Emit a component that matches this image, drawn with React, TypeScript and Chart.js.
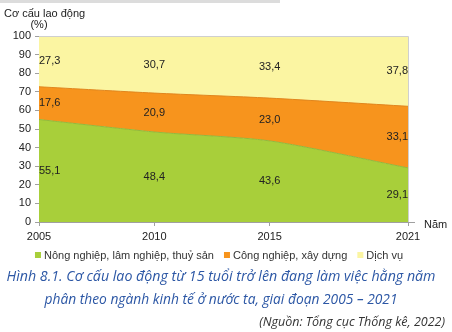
import React, { useEffect, useRef } from "react";
import { Chart, registerables } from "chart.js";

Chart.register(...registerables);

const years = [2005, 2010, 2015, 2021];
const seriesNames = ["Nông nghiệp, lâm nghiệp, thuỷ sản", "Công nghiệp, xây dựng", "Dịch vụ"];
const agriculture = [55.1, 48.4, 43.6, 29.1];
const industry = [17.6, 20.9, 23.0, 33.1];
const services = [27.3, 30.7, 33.4, 37.8];
const fillColors = ["#a8cf3a", "#f7941d", "#fbf5a2"];
const lineColors = ["#93b83a", "#e0861c", "#e6dc8a"];
const yTicks = [0, 10, 20, 30, 40, 50, 60, 70, 80, 90, 100];
const yTitle = ["Cơ cấu lao động", "(%)"];
const xTitle = "Năm";
const captionLines = [
  "Hình 8.1. Cơ cấu lao động từ 15 tuổi trở lên đang làm việc hằng năm",
  "phân theo ngành kinh tế ở nước ta, giai đoạn 2005 – 2021",
];
const sourceText = "(Nguồn: Tổng cục Thống kê, 2022)";

const fmt = (v: number) => v.toFixed(1).replace(".", ",");

export default function App() {
  const ref = useRef<HTMLCanvasElement | null>(null);

  useEffect(() => {
    const canvas = ref.current;
    if (!canvas) return;
    const all = [agriculture, industry, services];

    const extras = {
      id: "extras",
      beforeDraw(chart: any) {
        const ctx = chart.ctx;
        ctx.save();
        ctx.fillStyle = "#dcdcdc";
        ctx.fillRect(0, 0, 280, 3);
        ctx.restore();
      },
      afterDatasetsDraw(chart: any) {
        const ctx = chart.ctx;
        const xs = chart.scales.x;
        const ys = chart.scales.y;
        const ca = chart.chartArea;
        ctx.save();
        // frame top/right
        ctx.strokeStyle = "#cfcfcf";
        ctx.lineWidth = 1;
        ctx.beginPath();
        ctx.moveTo(ca.left, ca.top + 0.5);
        ctx.lineTo(ca.right + 0.5, ca.top + 0.5);
        ctx.lineTo(ca.right + 0.5, ca.bottom);
        ctx.stroke();
        // data labels
        ctx.font = "11px 'Liberation Sans', Arial, sans-serif";
        ctx.fillStyle = "#222";
        ctx.textBaseline = "middle";
        years.forEach((yr, i) => {
          let base = 0;
          const px = xs.getPixelForValue(yr);
          ctx.textAlign = i === 0 ? "left" : i === years.length - 1 ? "right" : "center";
          all.forEach((s) => {
            const v = s[i];
            const py = ys.getPixelForValue(base + v / 2);
            ctx.fillText(fmt(v), px, py);
            base += v;
          });
        });
        ctx.restore();
      },
      afterDraw(chart: any) {
        const ctx = chart.ctx;
        const ca = chart.chartArea;
        ctx.save();
        // x axis extension
        ctx.strokeStyle = "#a0a0a0";
        ctx.lineWidth = 1;
        ctx.beginPath();
        ctx.moveTo(ca.right, ca.bottom + 0.5);
        ctx.lineTo(ca.right + 7, ca.bottom + 0.5);
        ctx.stroke();
        ctx.font = "11px 'Liberation Sans', Arial, sans-serif";
        ctx.fillStyle = "#222";
        ctx.textBaseline = "middle";
        ctx.textAlign = "left";
        ctx.fillText(xTitle, ca.right + 16, ca.bottom + 3);
        // y title
        ctx.textBaseline = "alphabetic";
        ctx.textAlign = "left";
        ctx.fillText(yTitle[0], 4, 17);
        ctx.textAlign = "center";
        ctx.fillText(yTitle[1], 39, 28);
        // legend
        ctx.font = "11px 'Liberation Sans', Arial, sans-serif";
        ctx.textAlign = "left";
        ctx.textBaseline = "middle";
        const box = 6, gapBox = 3, gapItem = 10;
        const widths = seriesNames.map((n) => ctx.measureText(n).width);
        const total = widths.reduce((a, w) => a + box + gapBox + w, 0) + gapItem * (seriesNames.length - 1);
        let lx = 219 - total / 2;
        const ly = 255;
        seriesNames.forEach((n, i) => {
          ctx.fillStyle = fillColors[i];
          ctx.fillRect(lx, ly - box / 2, box, box);
          ctx.fillStyle = "#333";
          ctx.fillText(n, lx + box + gapBox, ly + 0.5);
          lx += box + gapBox + widths[i] + gapItem;
        });
        // caption
        ctx.textBaseline = "alphabetic";
        ctx.textAlign = "center";
        ctx.fillStyle = "#2c57a5";
        ctx.font = "italic 15px 'Open Sans', sans-serif";
        ctx.fillText(captionLines[0], 221, 281, 429);
        ctx.fillText(captionLines[1], 221, 304, 353);
        ctx.textAlign = "right";
        ctx.fillStyle = "#333";
        ctx.font = "italic 12.5px 'Open Sans', sans-serif";
        ctx.fillText(sourceText, 445, 326, 187);
        ctx.restore();
      },
    };

    const chart = new Chart(canvas, {
      type: "line",
      data: {
        datasets: all.map((s, i) => ({
          label: seriesNames[i],
          data: s.map((v, j) => ({ x: years[j], y: v })),
          backgroundColor: fillColors[i],
          borderColor: lineColors[i],
          borderWidth: 1,
          pointRadius: 0,
          tension: 0.25,
          fill: i === 0 ? "origin" : "-1",
        })),
      },
      options: {
        responsive: false,
        animation: false,
        events: [],
        layout: { padding: { left: 0, top: 36, right: 44, bottom: 82 } },
        plugins: { legend: { display: false }, tooltip: { enabled: false } },
        scales: {
          x: {
            type: "linear",
            min: years[0],
            max: years[years.length - 1],
            afterBuildTicks: (s: any) => {
              s.ticks = years.map((v) => ({ value: v }));
            },
            afterFit: (s: any) => {
              s.height = 28;
            },
            ticks: {
              autoSkip: false,
              maxRotation: 0,
              padding: 4,
              color: "#222",
              font: { family: "'Liberation Sans', Arial, sans-serif", size: 11 },
              callback: (v: any) => String(v),
            },
            grid: { drawOnChartArea: false, drawTicks: true, tickLength: 4, color: "#a0a0a0" },
            border: { color: "#a0a0a0" },
          },
          y: {
            stacked: true,
            min: 0,
            max: 100,
            afterBuildTicks: (s: any) => {
              s.ticks = yTicks.map((v) => ({ value: v }));
            },
            afterFit: (s: any) => {
              s.width = 39;
            },
            ticks: {
              padding: 4,
              color: "#222",
              font: { family: "'Liberation Sans', Arial, sans-serif", size: 11 },
            },
            grid: { drawOnChartArea: false, drawTicks: true, tickLength: 4, color: "#a0a0a0" },
            border: { color: "#a0a0a0" },
          },
        },
      },
      plugins: [extras],
    });
    return () => chart.destroy();
  }, []);

  return (
    <div style={{ position: "absolute", left: 0, top: 0, width: 452, height: 332, background: "#fff" }}>
      <canvas ref={ref} width={452} height={332} style={{ display: "block" }} />
    </div>
  );
}
